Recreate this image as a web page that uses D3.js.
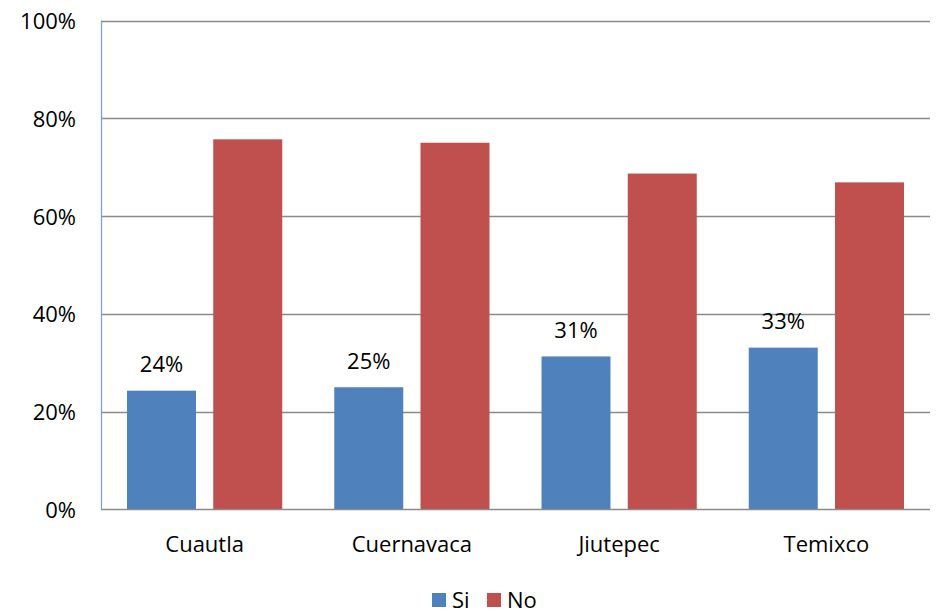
<!DOCTYPE html>
<html><head><meta charset="utf-8">
<script src="https://cdn.jsdelivr.net/npm/d3@7"></script>
<style>
html,body{margin:0;padding:0;background:#fff;}
text{font-family:"Open Sans", Carlito, Calibri, sans-serif;fill:#000;}
</style></head>
<body>
<svg id="c" width="936" height="613"></svg>
<script>
const categories = ["Cuautla", "Cuernavaca", "Jiutepec", "Temixco"];
const seriesNames = ["Si", "No"];
const si = [24.3, 25.0, 31.3, 33.1];
const no = [75.7, 75.0, 68.7, 66.9];
const yTicks = [0, 20, 40, 60, 80, 100];
const colors = ["#4F81BD", "#C0504D"];

(function () {
const FONT = "'Open Sans', Carlito, Calibri, sans-serif";
const FS = 22;
const svg = d3.select("#c");
const mLeft = 101, mRight = 930, mTop = 20.5, mBottom = 509.5;
const x0 = d3.scaleBand().domain(categories).range([mLeft, mRight]).paddingInner(0).paddingOuter(0);
const x1 = d3.scaleBand().domain(seriesNames).range([26, x0.bandwidth() - 26]).paddingInner(0.2);
const y = d3.scaleLinear().domain([0, 100]).range([mBottom, mTop]);

// gridlines
svg.append("g").selectAll("line").data(yTicks.filter(d => d > 0)).join("line")
  .attr("x1", mLeft).attr("x2", mRight)
  .attr("y1", d => Math.round(y(d)) + 0.5).attr("y2", d => Math.round(y(d)) + 0.5)
  .attr("stroke", "#8a8a8a").attr("stroke-width", 1.3);

const data = categories.map((c, i) => ({cat: c, vals: [si[i], no[i]]}));
const g = svg.append("g").selectAll("g").data(data).join("g")
  .attr("transform", d => `translate(${x0(d.cat)},0)`);
g.selectAll("rect").data(d => d.vals.map((v, k) => ({k, v}))).join("rect")
  .attr("x", d => x1(seriesNames[d.k]))
  .attr("width", x1.bandwidth())
  .attr("y", d => y(d.v))
  .attr("height", d => y(0) - y(d.v))
  .attr("fill", d => colors[d.k]);

// data labels for Si
g.append("text")
  .attr("x", x1("Si") + x1.bandwidth() / 2)
  .attr("y", d => y(d.vals[0]) - 18.5)
  .attr("text-anchor", "middle")
  .attr("font-size", FS)
  .style("font-family", FONT)
  .text(d => Math.round(d.vals[0]) + "%");

// axes lines
svg.append("line").attr("x1", mLeft).attr("x2", mRight).attr("y1", mBottom).attr("y2", mBottom)
  .attr("stroke", "#8a8a8a").attr("stroke-width", 1.3);
svg.append("line").attr("x1", mLeft + 0.5).attr("x2", mLeft + 0.5).attr("y1", mTop).attr("y2", mBottom)
  .attr("stroke", "#7fa0cf").attr("stroke-width", 1.3);

// y tick labels
const yAxis = d3.axisLeft(y).tickValues(yTicks).tickFormat(d => d + "%").tickSize(0).tickPadding(25);
const ya = svg.append("g").attr("transform", `translate(${mLeft},0)`).call(yAxis);
ya.select(".domain").remove();
ya.selectAll("text").attr("font-size", FS).attr("fill", "#000").attr("dy", "0.36em").style("font-family", FONT);

// x labels
const xAxis = d3.axisBottom(x0).tickSize(0).tickPadding(26.5);
const xa = svg.append("g").attr("transform", `translate(0,${mBottom})`).call(xAxis);
xa.select(".domain").remove();
xa.selectAll("text").attr("font-size", FS).attr("fill", "#000").style("font-family", FONT);

// legend
const legX = [432, 487];
const leg = svg.append("g").selectAll("g").data(seriesNames).join("g")
  .attr("transform", (d, i) => `translate(${legX[i]},593)`);
leg.append("rect").attr("width", 14).attr("height", 14).attr("fill", (d, i) => colors[i]);
leg.append("text").attr("x", 20).attr("y", 14.5).attr("font-size", FS).style("font-family", FONT).text(d => d);
})();
</script>
</body></html>
